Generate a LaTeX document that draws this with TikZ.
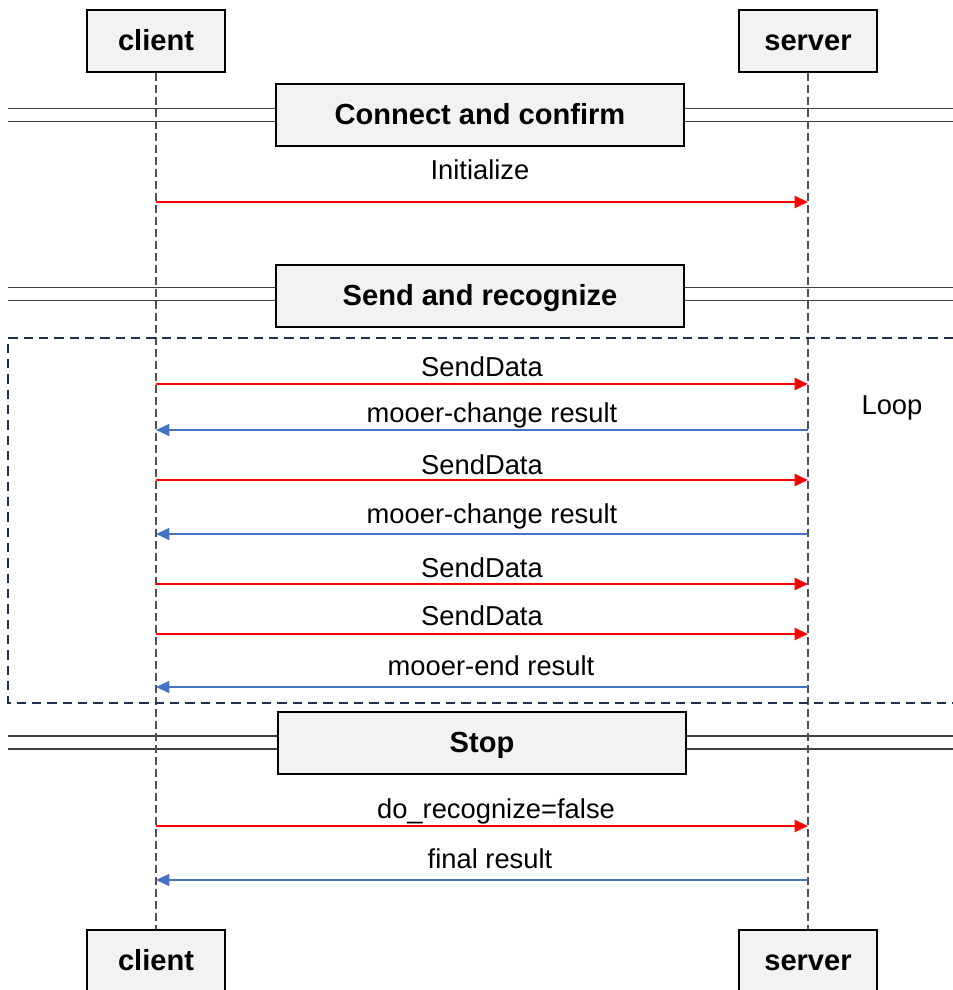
\documentclass[tikz,border=0pt]{standalone}
\usepackage{fontspec}
\setmainfont{Liberation Sans}
\usetikzlibrary{arrows.meta}
\definecolor{boxgray}{RGB}{242,242,242}
\definecolor{msgred}{RGB}{255,0,0}
\definecolor{msgblue}{RGB}{68,114,196}
\definecolor{loopnavy}{RGB}{32,48,80}
\definecolor{lifegray}{RGB}{80,80,80}

\begin{document}
\begin{tikzpicture}[x=0.75pt,y=-0.75pt,
  actor/.style={draw=black,line width=1.5pt,fill=boxgray,
               minimum width=103.5pt,minimum height=46.5pt,inner sep=0pt,
               text height=15.5pt,text depth=1pt,
               font=\fontsize{21.8}{24}\selectfont\bfseries},
  phase/.style={actor,minimum width=306pt},
  sepline/.style={draw=black!75,line width=0.9pt,double=white,double distance=8.8pt},
  lifeline/.style={lifegray,line width=0.8pt,dash pattern=on 6pt off 3pt},
  req/.style={-{Triangle[length=10pt,width=9pt]},msgred,line width=1.5pt},
  resp/.style={-{Triangle[length=10pt,width=9pt]},msgblue,line width=1.2pt},
  msg/.style={font=\fontsize{20.5}{24}\selectfont,anchor=base,text=black,inner sep=0pt},
  loopbox/.style={loopnavy,line width=1.5pt,dash pattern=on 7pt off 4.5pt}]

  \useasboundingbox (0,0) rectangle (953,990);

  % phase separators
  \coordinate (la) at (8,115);   \coordinate (ra) at (953,115);
  \coordinate (lb) at (8,294);   \coordinate (rb) at (953,294);
  \coordinate (lc) at (8,742.5); \coordinate (rc) at (953,742.5);
  \draw[sepline] (la) -- (ra);
  \draw[sepline] (lb) -- (rb);
  \draw[sepline] (lc) -- (rc);

  \node[actor] (client)  at (156,41)  {client};
  \node[actor] (server)  at (808,41)  {server};
  \node[actor] (clientb) at (156,961) {client};
  \node[actor] (serverb) at (808,961) {server};

  \node[phase] (connect) at (480,115)   {Connect and confirm};
  \node[phase] (send)    at (480,296)   {Send and recognize};
  \node[phase] (stop)    at (482,742.5) {Stop};

  \draw[lifeline] (client) -- (clientb);
  \draw[lifeline] (server) -- (serverb);

  % loop frame
  \coordinate (lpa) at (953,338); \coordinate (lpb) at (8,338);
  \coordinate (lpc) at (8,703);   \coordinate (lpd) at (953,703);
  \draw[loopbox] (lpa) -- (lpb) -- (lpc) -- (lpd);
  \node[msg,anchor=center] (loop) at (892,408) {Loop};

  \foreach \n/\y in {1/202,2/384,3/430,4/480,5/534,6/584,7/634,8/687,9/826,10/880}{
    \coordinate (c\n) at (156,\y);
    \coordinate (s\n) at (808,\y);
  }

  \draw[req]  (c1)  -- (s1)  node[msg,midway,yshift=17.25pt,xshift=-1.5pt]{Initialize};
  \draw[req]  (c2)  -- (s2)  node[msg,midway,yshift=6pt]{SendData};
  \draw[resp] (s3)  -- (c3)  node[msg,midway,yshift=6pt,xshift=7.5pt]{mooer-change result};
  \draw[req]  (c4)  -- (s4)  node[msg,midway,yshift=4pt]{SendData};
  \draw[resp] (s5)  -- (c5)  node[msg,midway,yshift=8.25pt,xshift=7.5pt]{mooer-change result};
  \draw[req]  (c6)  -- (s6)  node[msg,midway,yshift=5.25pt]{SendData};
  \draw[req]  (c7)  -- (s7)  node[msg,midway,yshift=6.75pt]{SendData};
  \draw[resp] (s8)  -- (c8)  node[msg,midway,yshift=9pt,xshift=6.75pt]{mooer-end result};
  \draw[req]  (c9)  -- (s9)  node[msg,midway,yshift=6pt,xshift=10.5pt]{do\_recognize=false};
  \draw[resp] (s10) -- (c10) node[msg,midway,yshift=9pt,xshift=6pt]{final result};
\end{tikzpicture}
\end{document}
